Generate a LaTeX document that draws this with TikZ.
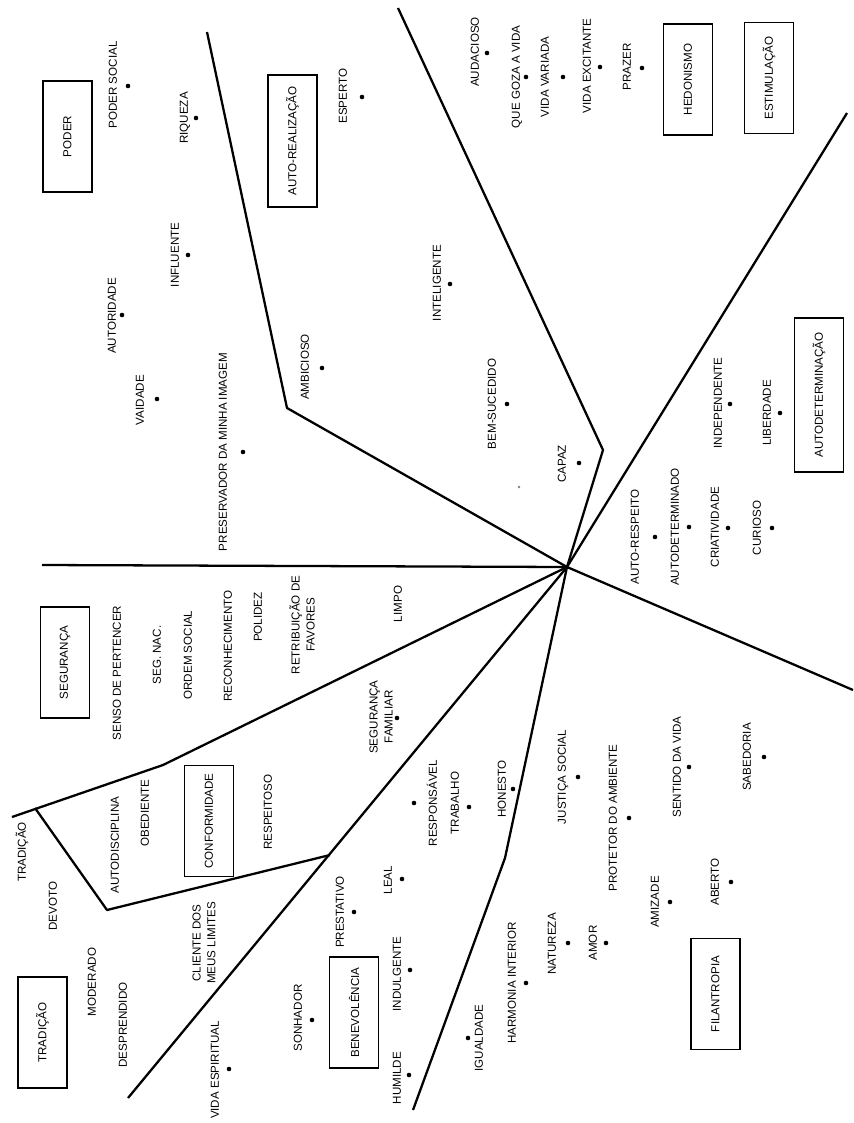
\documentclass[tikz,border=0pt]{standalone}
\usepackage{fontspec}
\setmainfont{Liberation Sans}
\usetikzlibrary{positioning}

\begin{document}
\begin{tikzpicture}[x=0.02cm, y=-0.02cm,
    valor/.style={rotate=90, inner sep=0pt, align=center, font=\fontsize{6.6}{8.5}\selectfont},
    tipo/.style={draw, line width=0.8pt, rotate=90, minimum width=2.22cm, minimum height=0.98cm, font=\fontsize{6.6}{8}\selectfont},
    ponto/.style={circle, fill, inner sep=0pt, minimum size=2.6pt},
    fronteira/.style={line width=1.3pt, line join=round}]
    \useasboundingbox (0,0) rectangle (854,1123);

    % fronteiras entre os tipos motivacionais
    \coordinate (centro) at (567,567);
    \coordinate (h1) at (42,565);
    \coordinate (a1) at (207,32);   \coordinate (a2) at (287,408);
    \coordinate (b1) at (398,8);    \coordinate (b2) at (603,450);
    \coordinate (e1) at (847,113);
    \coordinate (d1) at (853,690);
    \coordinate (f1) at (505,858);  \coordinate (f2) at (413,1110);
    \coordinate (g1) at (128,1098); \coordinate (g2) at (330,855);
    \coordinate (s1) at (163,765);  \coordinate (s2) at (12,817);
    \coordinate (t1) at (35,808);   \coordinate (t2) at (107,910);

    \draw[fronteira] (h1) -- (centro);
    \draw[fronteira] (a1) -- (a2) -- (centro);
    \draw[fronteira] (b1) -- (b2) -- (centro);
    \draw[fronteira] (centro) -- (e1);
    \draw[fronteira] (centro) -- (d1);
    \draw[fronteira] (centro) -- (f1) -- (f2);
    \draw[fronteira] (centro) -- (g1);
    \draw[fronteira] (centro) -- (s1) -- (s2);
    \draw[fronteira] (t1) -- (t2) -- (g2);

    % tipos
    \node[tipo] (poder) at (67.5,136.5) {PODER};
    \node[tipo, minimum width=2.64cm] (autorealizacao) at (292.5,141) {AUTO-REALIZAÇÃO};
    \node[tipo] (hedonismo) at (688,79.5) {HEDONISMO};
    \node[tipo] (estimulacao) at (769,78) {ESTIMULAÇÃO};
    \node[tipo, minimum width=3.08cm] (autodeterminacao) at (819,395) {AUTODETERMINAÇÃO};
    \node[tipo] (seguranca) at (65,662.5) {SEGURANÇA};
    \node[tipo] (conformidade) at (209,821) {CONFORMIDADE};
    \node[tipo] (tradicao) at (42.5,1032.5) {TRADIÇÃO};
    \node[tipo] (benevolencia) at (354,1012.5) {BENEVOLÊNCIA};
    \node[tipo] (filantropia) at (715.5,994) {FILANTROPIA};

    % valores
    \node[valor] (podersocial) at (113,85) {PODER SOCIAL};
    \node[valor] (riqueza) at (185,118) {RIQUEZA};
    \node[valor] (influente) at (175,255) {INFLUENTE};
    \node[valor] (autoridade) at (112,316) {AUTORIDADE};
    \node[valor] (vaidade) at (140,400) {VAIDADE};
    \node[valor] (preservador) at (223,452) {PRESERVADOR DA MINHA IMAGEM};
    \node[valor] (esperto) at (343,96) {ESPERTO};
    \node[valor] (ambicioso) at (305,367) {AMBICIOSO};
    \node[valor] (inteligente) at (437,283) {INTELIGENTE};
    \node[valor] (bemsucedido) at (492,404) {BEM-SUCEDIDO};
    \node[valor] (capaz) at (562,464) {CAPAZ};
    \node[valor] (audacioso) at (475,52) {AUDACIOSO};
    \node[valor] (quegoza) at (517,77) {QUE GOZA A VIDA};
    \node[valor] (vidavariada) at (545,77) {VIDA VARIADA};
    \node[valor] (vidaexcitante) at (587,66) {VIDA EXCITANTE};
    \node[valor] (prazer) at (627,67) {PRAZER};
    \node[valor] (autorespeito) at (635,537) {AUTO-RESPEITO};
    \node[valor] (autodeterminado) at (675,527) {AUTODETERMINADO};
    \node[valor] (independente) at (718,403) {INDEPENDENTE};
    \node[valor] (liberdade) at (767,413) {LIBERDADE};
    \node[valor] (criatividade) at (715,527) {CRIATIVIDADE};
    \node[valor] (curioso) at (757,528) {CURIOSO};
    \node[valor] (senso) at (117,673) {SENSO DE PERTENCER};
    \node[valor] (segnac) at (157,655) {SEG. NAC.};
    \node[valor] (ordemsocial) at (188,655) {ORDEM SOCIAL};
    \node[valor] (reconhecimento) at (228,646) {RECONHECIMENTO};
    \node[valor] (polidez) at (258,617) {POLIDEZ};
    \node[valor] (retribuicao) at (302,625) {RETRIBUIÇÃO DE\\FAVORES};
    \node[valor] (limpo) at (398,604) {LIMPO};
    \node[valor] (segfamiliar) at (381,717) {SEGURANÇA\\FAMILIAR};
    \node[valor] (autodisciplina) at (115,845) {AUTODISCIPLINA};
    \node[valor] (obediente) at (145,813) {OBEDIENTE};
    \node[valor] (respeitoso) at (268,812) {RESPEITOSO};
    \node[valor] (tradicaoval) at (22,852) {TRADIÇÃO};
    \node[valor] (devoto) at (53,906) {DEVOTO};
    \node[valor] (moderado) at (92,982) {MODERADO};
    \node[valor] (desprendido) at (123,1025) {DESPRENDIDO};
    \node[valor] (cliente) at (204,943) {CLIENTE DOS\\MEUS LIMITES};
    \node[valor] (vidaespiritual) at (215,1070) {VIDA ESPIRITUAL};
    \node[valor] (sonhador) at (298,1018) {SONHADOR};
    \node[valor] (prestativo) at (340,912) {PRESTATIVO};
    \node[valor] (leal) at (388,880) {LEAL};
    \node[valor] (indulgente) at (397,974) {INDULGENTE};
    \node[valor] (humilde) at (397,1078) {HUMILDE};
    \node[valor] (responsavel) at (432,803) {RESPONSÁVEL};
    \node[valor] (trabalho) at (455,803) {TRABALHO};
    \node[valor] (honesto) at (502,789) {HONESTO};
    \node[valor] (justica) at (563,777) {JUSTIÇA SOCIAL};
    \node[valor] (protetor) at (613,818) {PROTETOR DO AMBIENTE};
    \node[valor] (sentido) at (677,767) {SENTIDO DA VIDA};
    \node[valor] (sabedoria) at (747,757) {SABEDORIA};
    \node[valor] (amizade) at (655,902) {AMIZADE};
    \node[valor] (aberto) at (715,882) {ABERTO};
    \node[valor] (natureza) at (552,944) {NATUREZA};
    \node[valor] (amor) at (593,943) {AMOR};
    \node[valor] (harmonia) at (512,983) {HARMONIA INTERIOR};
    \node[valor] (igualdade) at (479,1038) {IGUALDADE};

    % pontos
    \foreach \px/\py [count=\i] in {128/86, 196/118, 188/255, 122/315, 157/399, 243/452,
        362/97, 322/368, 450/284, 507/404, 579/463, 487/53, 526/77, 563/77, 600/67, 642/68,
        655/537, 689/527, 728/528, 772/528, 730/404, 780/413, 397/718, 414/803, 469/807,
        513/789, 578/777, 629/818, 689/767, 764/757, 670/902, 731/882, 568/943, 606/943,
        526/983, 468/1038, 402/879, 410/970, 409/1075, 354/912, 312/1020, 229/1069}
        \node[ponto] (p\i) at (\px,\py) {};
    \node[ponto, fill=gray, minimum size=1.6pt] (pfraco) at (519,487) {};
\end{tikzpicture}
\end{document}
